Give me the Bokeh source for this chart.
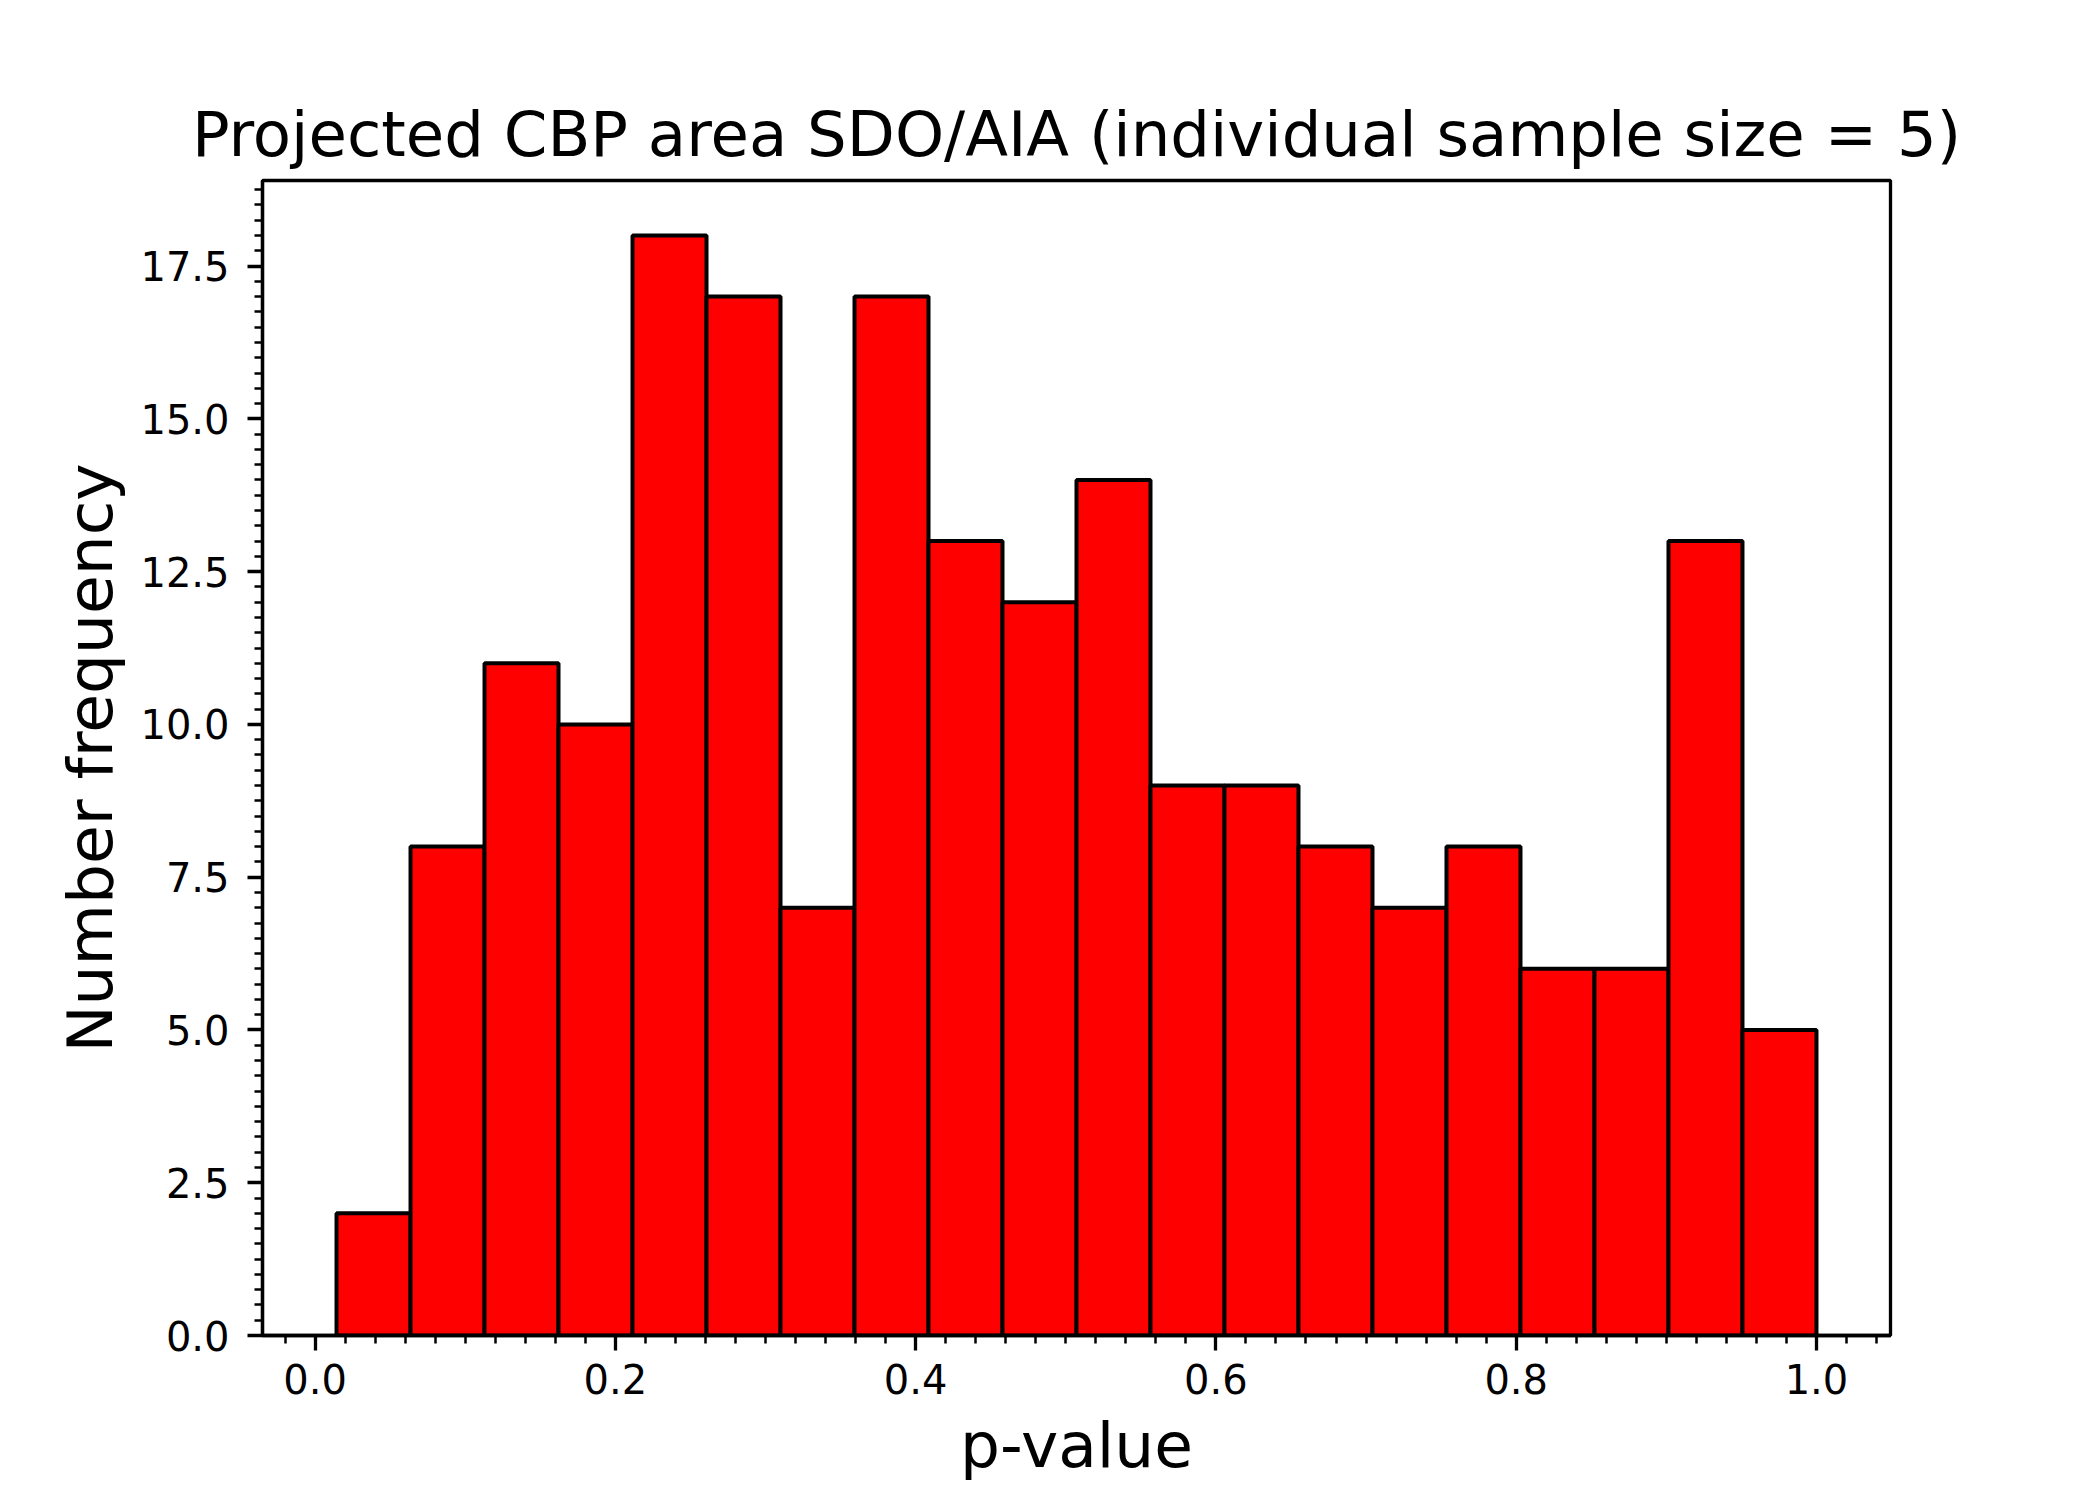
import numpy as np
from bokeh.plotting import figure
from bokeh.models import Range1d, SingleIntervalTicker, NumeralTickFormatter, ColumnDataSource
from bokeh.embed import file_html
from bokeh.resources import INLINE

# Data: histogram of p-values (20 bins)
counts = [2, 8, 11, 10, 18, 17, 7, 17, 13, 12, 14, 9, 9, 8, 7, 8, 6, 6, 13, 5]
p_min = 0.0143
p_max = 1.0
title_text = "Projected CBP area SDO/AIA (individual sample size = 5)"
x_label = "p-value"
y_label = "Number frequency"

edges = np.linspace(p_min, p_max, len(counts) + 1)
src = ColumnDataSource(dict(left=edges[:-1], right=edges[1:], top=counts, bottom=[0] * len(counts)))

FONT = "DejaVu Sans"
W, H = 2084, 1484

p = figure(width=W, height=H, output_backend="svg", toolbar_location=None,
           x_range=Range1d(-0.035, 1.0493), y_range=Range1d(0, 18.9),
           min_border_left=262, min_border_right=194, min_border_top=180, min_border_bottom=149)

p.quad(left="left", right="right", top="top", bottom="bottom", source=src,
       fill_color="#ff0000", line_color="black", line_width=4)

p.title.text = title_text
p.title.text_font = FONT
p.title.text_font_size = "62.5px"
p.title.text_font_style = "normal"
p.title.text_color = "black"
p.title.align = "center"
p.title.standoff = 20

p.xgrid.visible = False
p.ygrid.visible = False
p.outline_line_color = "black"
p.outline_line_width = 3.3
p.background_fill_color = "white"
p.border_fill_color = "white"

p.xaxis.ticker = SingleIntervalTicker(interval=0.2, num_minor_ticks=10)
p.yaxis.ticker = SingleIntervalTicker(interval=2.5, num_minor_ticks=10)
for ax in (p.xaxis[0], p.yaxis[0]):
    ax.formatter = NumeralTickFormatter(format="0.0")
    ax.axis_line_color = "black"
    ax.axis_line_width = 3.3
    ax.major_tick_line_width = 3.3
    ax.minor_tick_line_width = 2.5
    ax.major_tick_out = 15
    ax.major_tick_in = 0
    ax.minor_tick_out = 8
    ax.minor_tick_in = 0
    ax.major_label_text_font = FONT
    ax.major_label_text_font_size = "40px"
    ax.major_label_text_color = "black"
    ax.axis_label_text_font = FONT
    ax.axis_label_text_font_size = "63px"
    ax.axis_label_text_font_style = "normal"
    ax.axis_label_text_color = "black"
    ax.axis_label_text_line_height = 1.0

p.xaxis.major_label_standoff = 13
p.yaxis.major_label_standoff = 18
p.xaxis.axis_label = x_label
p.yaxis.axis_label = y_label
p.xaxis.axis_label_standoff = 12
p.yaxis.axis_label_standoff = 10

with open("out.html", "w") as f:
    f.write(file_html(p, INLINE))
